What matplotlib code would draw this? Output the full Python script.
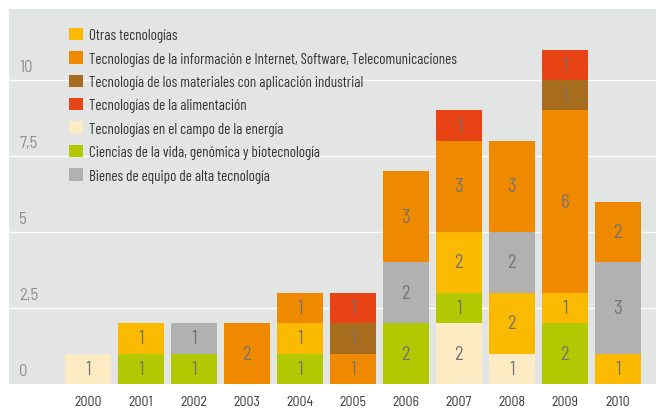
import matplotlib
matplotlib.use('agg')
import matplotlib.pyplot as plt
import numpy as np

years = ['2000', '2001', '2002', '2003', '2004', '2005', '2006', '2007', '2008', '2009', '2010']

# stacked bottom -> top
energia = [1, 0, 0, 0, 0, 0, 0, 2, 1, 0, 0]
vida = [0, 1, 1, 0, 1, 0, 2, 1, 0, 2, 0]
otras = [0, 1, 0, 0, 1, 0, 0, 2, 2, 1, 1]
bienes = [0, 0, 1, 0, 0, 0, 2, 0, 2, 0, 3]
info = [0, 0, 0, 2, 1, 1, 3, 3, 3, 6, 2]
materiales = [0, 0, 0, 0, 0, 1, 0, 0, 0, 1, 0]
alimentacion = [0, 0, 0, 0, 0, 1, 0, 1, 0, 1, 0]

yticks = [0, 2.5, 5, 7.5, 10]
ytick_labels = ['0', '2,5', '5', '7,5', '10']

series = [
    ('Tecnologías en el campo de la energía', energia, '#FDEBC4'),
    ('Ciencias de la vida, genómica y biotecnología', vida, '#B2C800'),
    ('Otras tecnologías', otras, '#FBBA00'),
    ('Bienes de equipo de alta tecnología', bienes, '#B1B1B1'),
    ('Tecnologías de la información e Internet, Software, Telecomunicaciones', info, '#EF8A00'),
    ('Tecnología de los materiales con aplicación industrial', materiales, '#A86C1E'),
    ('Tecnologías de la alimentación', alimentacion, '#E84315'),
]
legend_order = [
    'Otras tecnologías',
    'Tecnologías de la información e Internet, Software, Telecomunicaciones',
    'Tecnología de los materiales con aplicación industrial',
    'Tecnologías de la alimentación',
    'Tecnologías en el campo de la energía',
    'Ciencias de la vida, genómica y biotecnología',
    'Bienes de equipo de alta tecnología',
]

plt.rcParams['font.family'] = ['Barlow Semi Condensed', 'DejaVu Sans']

fig = plt.figure(figsize=(6.56, 4.10), dpi=100)
ax = fig.add_axes([9 / 656, 25 / 410, 647 / 656, 375 / 410])
ax.set_facecolor('#E3E4E4')

x = np.arange(len(years))
bottom = np.zeros(len(years))
handles = {}
for name, vals, col in series:
    vals = np.array(vals)
    bars = ax.bar(x, vals, 0.87, bottom=bottom, color=col, label=name, zorder=2)
    handles[name] = bars
    for xi, v, b in zip(x, vals, bottom):
        if v > 0:
            ax.text(xi, b + v / 2, str(v), ha='center', va='center',
                    fontsize=13.5, color='#737373', zorder=3)
    bottom += vals

for t, lab in zip(yticks, ytick_labels):
    if t > 0:
        ax.axhline(t, color='white', lw=1, zorder=1)
    ax.text(-1.3, t + 0.2, lab, ha='left', va='bottom', fontsize=12,
            color='#8E8E8E')

ax.set_xlim(-1.49, 10.72)
ax.set_ylim(0, 12.34)
ax.set_yticks([])
ax.set_xticks(x)
ax.set_xticklabels(years, fontsize=10, color='#333333')
ax.tick_params(axis='x', length=0, pad=8)
for s in ax.spines.values():
    s.set_visible(False)

leg = ax.legend([handles[n] for n in legend_order], legend_order,
                loc='upper left', bbox_to_anchor=(0.0835, 0.966), frameon=False,
                prop={'family': 'Barlow Condensed', 'size': 10.8},
                handlelength=0.9, handleheight=0.9,
                handletextpad=0.45, labelspacing=0.6, borderaxespad=0)
for t in leg.get_texts():
    t.set_color('#333333')

fig.savefig('out.png', dpi=100)
